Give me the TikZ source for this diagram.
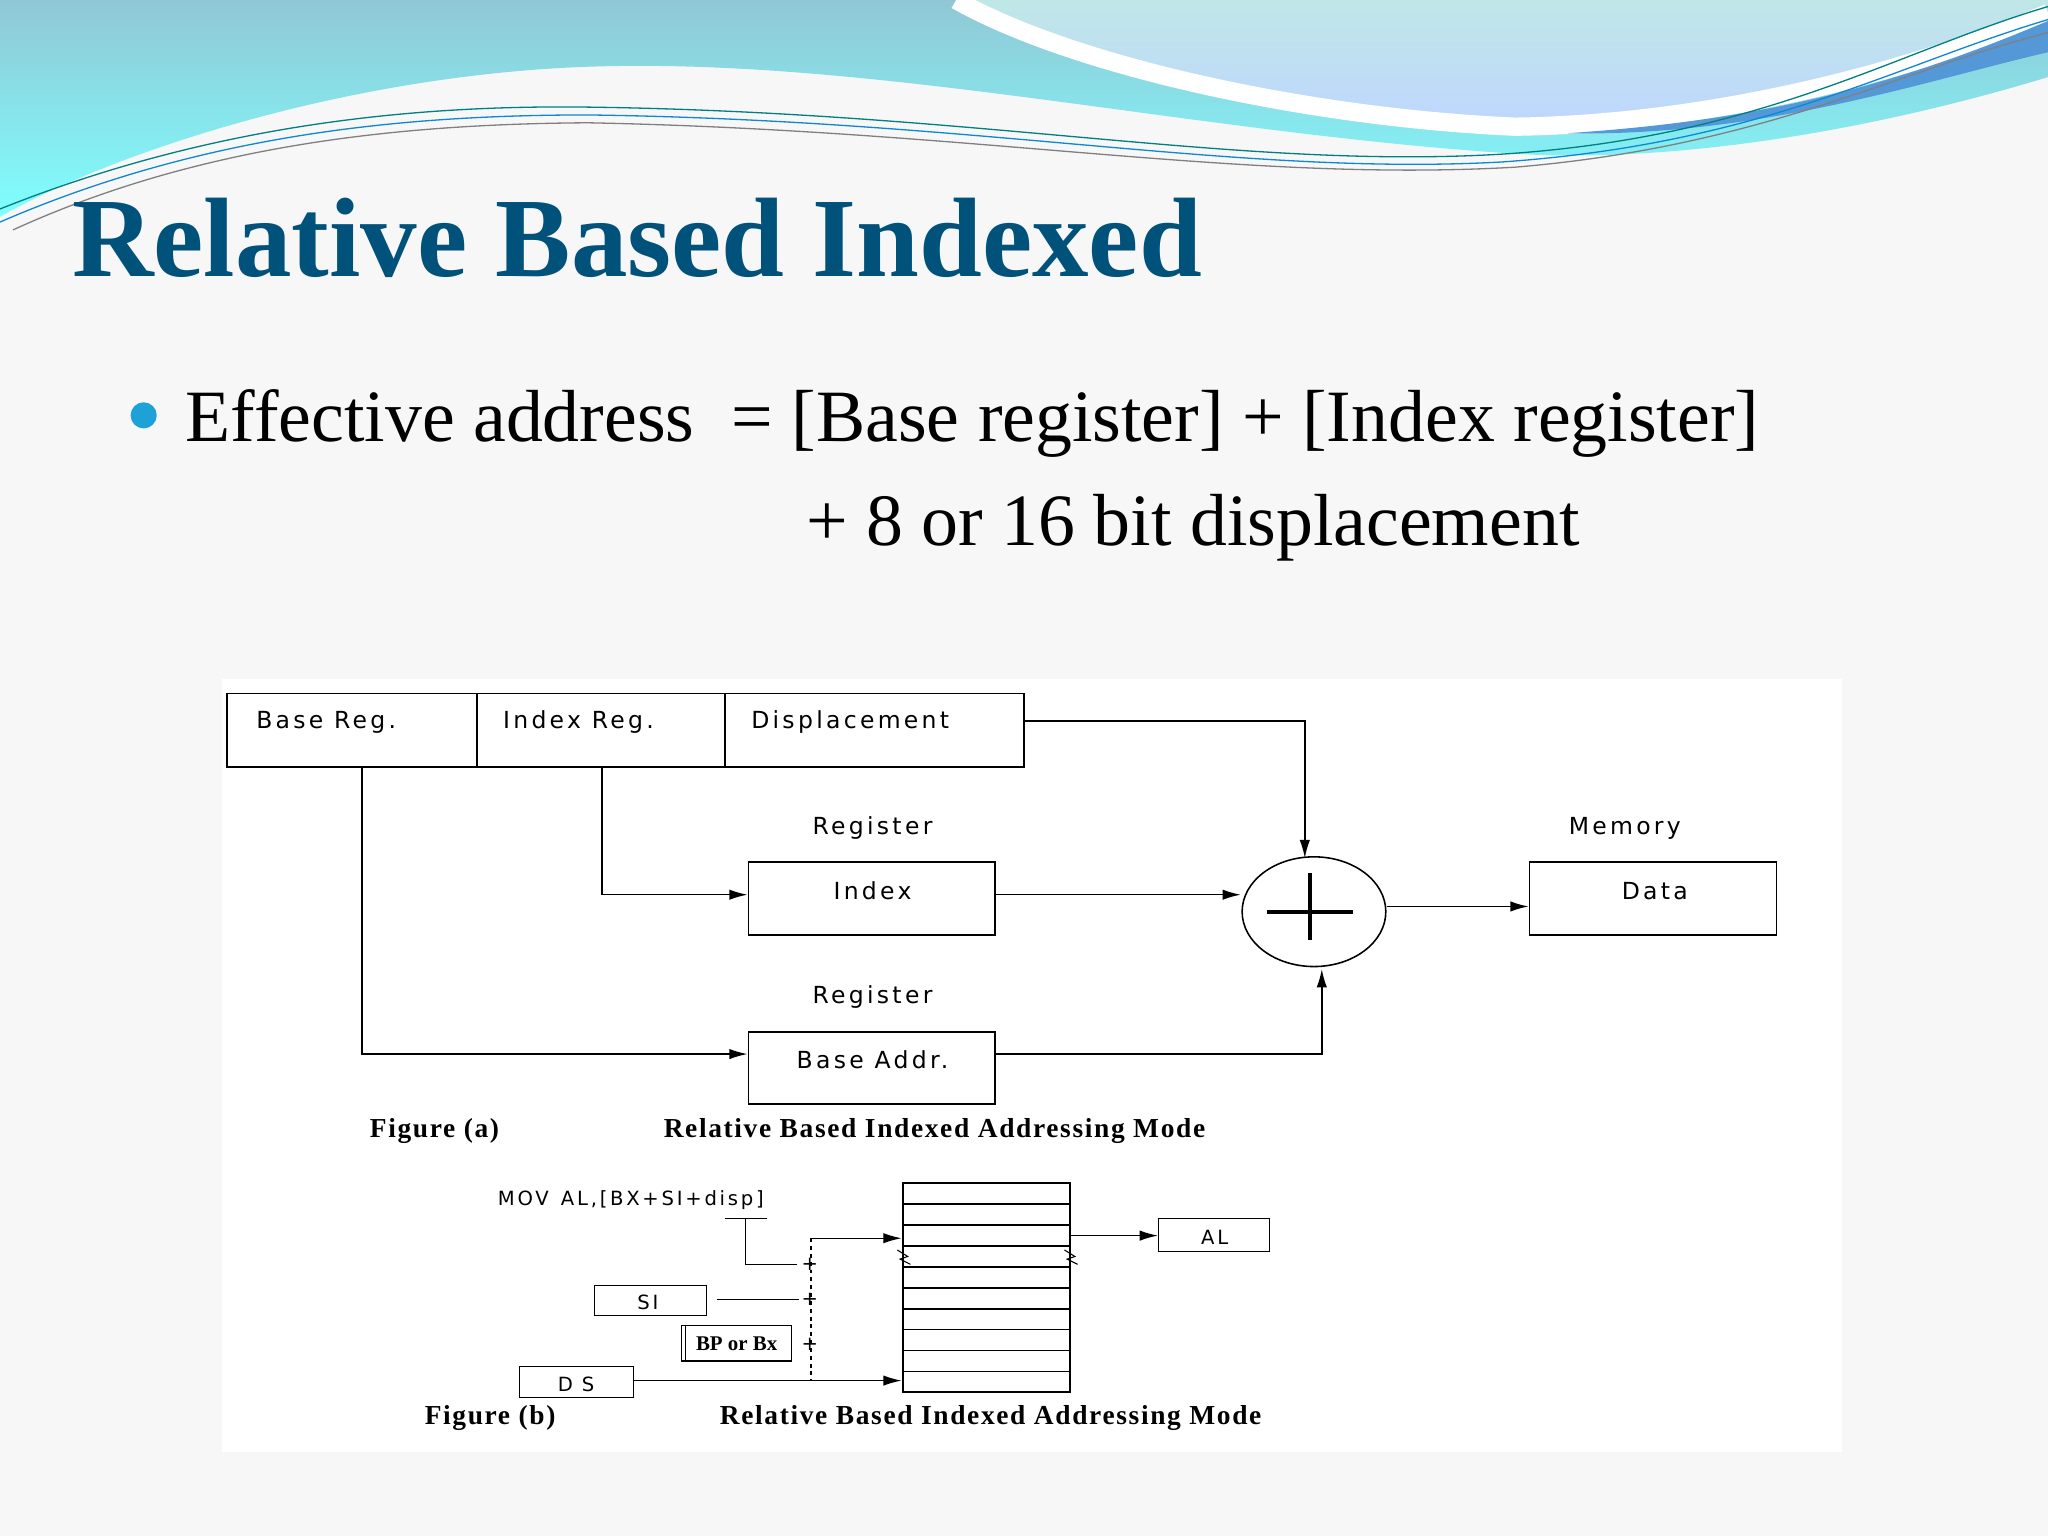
\documentclass[tikz,border=0pt]{standalone}
\usepackage{fontspec}
\setmainfont{Liberation Serif}
\newfontfamily\dsans[LetterSpace=14]{DejaVu Sans}
\newfontfamily\capfont[LetterSpace=6]{Liberation Serif}
\usetikzlibrary{arrows.meta}
\begin{document}
\begin{tikzpicture}[x={(1pt,0)},y={(0,-1pt)},
  bx/.style={draw,line width=1.3pt,inner sep=0},
  lbl/.style={font=\dsans\fontsize{18}{18}\selectfont,inner sep=0},
  sm/.style={font=\dsans\fontsize{15}{15}\selectfont,inner sep=0},
  figcap/.style={font=\capfont\bfseries\fontsize{21}{21}\selectfont,inner sep=0,anchor=west},
  ln/.style={line width=1.2pt},
  ar/.style={ln,-{Latex[length=14pt,width=8pt]}}]
\useasboundingbox (0,0) rectangle (1568,1176);
\fill[gray!6] (0,0) rectangle (1568,1176);
% header
\shade[top color=blue!20!cyan!45!gray!60,bottom color=cyan!50] (0,0) -- (1568,0) -- (1568,59) .. controls (1400,110) and (1250,125) .. (1150,117) .. controls (900,100) and (650,40) .. (430,52) .. controls (250,62) and (80,120) .. (0,166) -- cycle;
\shade[top color=cyan!25!teal!25!white,bottom color=cyan!35!blue!25!white] (740,0) -- (1568,0) -- (1568,10) .. controls (1450,60) and (1300,95) .. (1160,97) .. controls (1000,90) and (820,50) .. (740,0) -- cycle;
\draw[white,line width=14pt] (1568,10) .. controls (1450,60) and (1300,95) .. (1160,97) .. controls (1000,90) and (820,50) .. (732,0);
\fill[cyan!60!blue!70] (1568,16) .. controls (1450,66) and (1350,92) .. (1200,102) .. controls (1350,105) and (1480,60) .. (1568,40) -- cycle;
\draw[teal,line width=1pt] (0,160) .. controls (150,100) and (300,80) .. (450,82) .. controls (750,86) and (950,130) .. (1150,118) .. controls (1350,105) and (1450,40) .. (1568,5);
\draw[cyan!70!blue,line width=1pt] (0,170) .. controls (150,105) and (300,88) .. (450,88) .. controls (750,92) and (950,135) .. (1150,124) .. controls (1350,110) and (1450,50) .. (1568,15);
\draw[gray,line width=1pt] (10,176) .. controls (150,112) and (300,95) .. (450,94) .. controls (750,100) and (950,140) .. (1160,128) .. controls (1350,112) and (1450,55) .. (1568,25);
% title
\node[anchor=base west,inner sep=0,text=teal!80!blue!80!black,font=\bfseries\fontsize{86.5}{86.5}\selectfont] (title) at (55,212) {Relative Based Indexed};
\fill[cyan!75!teal] (110,318) circle (10);
\node[anchor=base west,inner sep=0,font=\fontsize{56.5}{56.5}\selectfont] (l1) at (142,338) {Effective address \ = [Base register] + [Index register]};
\node[anchor=base west,inner sep=0,font=\fontsize{56.5}{56.5}\selectfont] (l2) at (617,418) {+ 8 or 16 bit displacement};
% diagram
\fill[white] (170,520) rectangle (1410,1112);
\node[bx,minimum width=191pt,minimum height=56pt] (br) at (269.5,559) {};
\node[bx,minimum width=190pt,minimum height=56pt] (ir) at (460,559) {};
\node[bx,minimum width=229pt,minimum height=56pt] (dp) at (669.5,559) {};
\node[lbl,anchor=west] at (196,553) {Base Reg.};
\node[lbl,anchor=west] at (385,553) {Index Reg.};
\node[lbl,anchor=west] at (575,553) {Displacement};
\node[bx,minimum width=189pt,minimum height=56pt] (ix) at (667.5,688) {};
\node[lbl] at (668,682) {Index};
\node[lbl] at (668,634) {Register};
\node[bx,minimum width=189pt,minimum height=55pt] (ba) at (667.5,817.5) {};
\node[lbl] at (668,811) {Base Addr.};
\node[lbl] at (668,763) {Register};
\node[bx,minimum width=189pt,minimum height=56pt] (da) at (1265.5,688) {};
\node[lbl] at (1267,682) {Data};
\node[lbl] at (1244,634) {Memory};
\draw[ln] (1006,698) ellipse (55 and 42);
\coordinate (c) at (1006,698);
\draw[line width=3pt] (970,698) -- (1036,698) (1003,668) -- (1003,720);
\draw[ar] (dp.east |- 0,552) -- (999,552) -- (999,657);
\draw[ar] (461,587) -- (461,685) -- (ix.west |- 0,685);
\draw[ar] (ix.east |- 0,685) -- (950,685);
\draw[ar] (1062,694) -- (da.west |- 0,694);
\draw[ar] (277,587) -- (277,807) -- (ba.west |- 0,807);
\draw[ar] (ba.east |- 0,807) -- (1012,807) -- (1012,742);
\node[figcap] at (283,866) {Figure (a)};
\node[figcap] at (508,866) {Relative Based Indexed Addressing Mode};
% figure b
\node[sm,anchor=west] (mov) at (381,919) {MOV\, AL,[BX+SI+disp]};
\draw[line width=1pt] (555,933) -- (587,933) (571,933) -- (571,968) -- (610,968);
\node[sm] at (620,968) {+};
\draw[line width=1pt,dashed] (621,948) -- (621,1057);
\node[bx,line width=1pt,minimum width=86pt,minimum height=23pt] (si) at (498,995.5) {};
\node[sm] at (496,997) {SI};
\draw[line width=1pt] (549,995) -- (612,995);
\node[sm] at (620,995) {+};
\node[bx,line width=1pt,minimum width=84pt,minimum height=27pt] (bp) at (564,1028.5) {};
\draw[line width=1pt] (525,1015) -- (525,1042);
\node[font=\fontsize{16}{16}\selectfont\bfseries,inner sep=0] at (564,1029) {BP or Bx};
\node[sm] at (620,1029) {+};
\node[bx,line width=1pt,minimum width=87pt,minimum height=24pt] (ds) at (441.5,1058) {};
\node[sm] at (441,1060) {D S};
\foreach \i in {0,...,10} \draw[line width=1.2pt] (691,906+16*\i) -- (819,906+16*\i);
\node[draw,line width=1.5pt,minimum width=128pt,minimum height=160pt,inner sep=0] (mem) at (755,986) {};
\draw[line width=0.8pt] (687,957) -- (695,962) -- (689,964) -- (697,968) (815,957) -- (823,962) -- (817,964) -- (825,968);
\node[bx,line width=1pt,minimum width=85pt,minimum height=25pt] (al) at (929.5,945.5) {};
\node[sm] at (930,947) {AL};
\draw[ar,line width=1pt] (621,948) -- (mem.west |- 0,948);
\draw[ar,line width=1pt] (ds.east |- 0,1057) -- (mem.west |- 0,1057);
\draw[ar,line width=1pt] (mem.east |- 0,946) -- (al.west |- 0,946);
\node[figcap] at (325,1086) {Figure (b)};
\node[figcap] at (551,1086) {Relative Based Indexed Addressing Mode};
\end{tikzpicture}
\end{document}
